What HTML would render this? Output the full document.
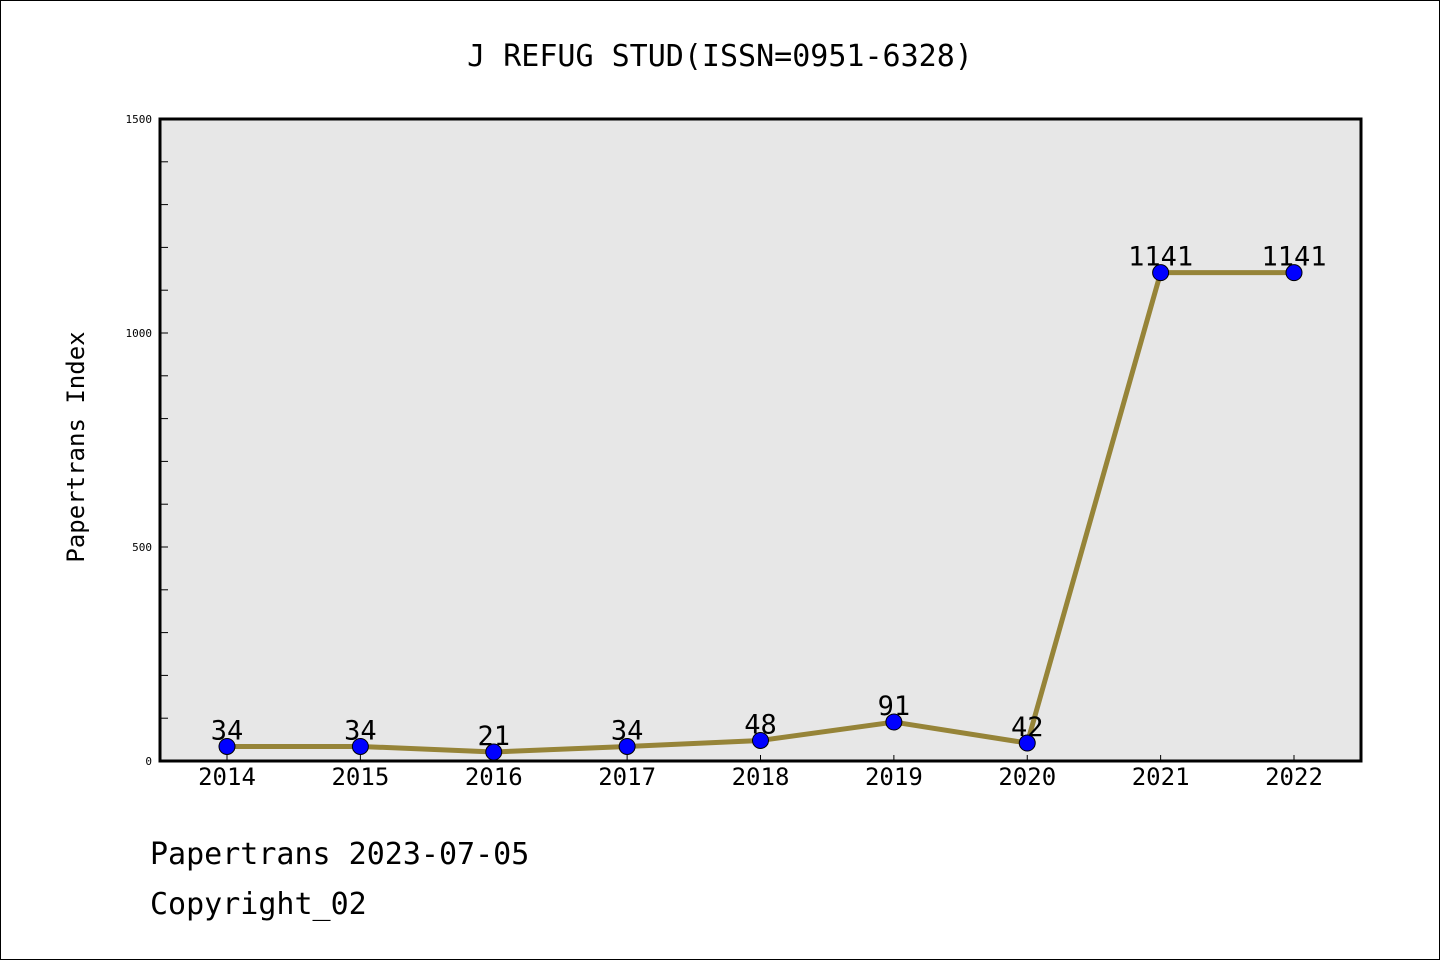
<!DOCTYPE html>
<html><head><meta charset="utf-8"><style>
html,body{margin:0;padding:0;background:#fff}
svg{display:block}
text{font-family:"DejaVu Sans Mono","Liberation Mono",monospace}
</style></head><body>
<svg id="chart" width="1440" height="960" viewBox="0 0 1440 960">
<rect x="0.5" y="0.5" width="1439" height="959" fill="#fff" stroke="#000" stroke-width="1"/>
<text x="720" y="66" text-anchor="middle" font-size="30" fill="#000">J REFUG STUD(ISSN=0951-6328)</text>
<rect x="160" y="119" width="1201" height="642" fill="#e7e7e7"/>
<g id="axes"></g>
<g id="series"></g>
<rect x="160" y="119" width="1201" height="642" fill="none" stroke="#000" stroke-width="3"/>
<text transform="translate(84,447) rotate(-90)" text-anchor="middle" font-size="24" fill="#000">Papertrans Index</text>
<text x="150" y="864" font-size="30" fill="#000">Papertrans 2023-07-05</text>
<text x="150" y="914" font-size="30" fill="#000">Copyright_02</text>
</svg>
<script>
const categories = ["2014","2015","2016","2017","2018","2019","2020","2021","2022"];
const values = [34,34,21,34,48,91,42,1141,1141];
const yTickLabels = [0,500,1000,1500];
const yMinorStep = 100;
const yMax = 1500;

const NS = "http://www.w3.org/2000/svg";
function xs(i){ return 227 + i * (1294 - 227) / (categories.length - 1); }
function ys(v){ return 761 - v * (761 - 119) / yMax; }
function mk(tag, attrs, parent){ const e=document.createElementNS(NS,tag); for(const k in attrs) e.setAttribute(k,attrs[k]); parent.appendChild(e); return e; }

const axes = document.getElementById("axes");
for(let v=yMinorStep; v<yMax; v+=yMinorStep){
  const t = mk("line",{x1:160,x2:168,y1:ys(v),y2:ys(v),stroke:"#000","stroke-width":1},axes);
  
  
}
yTickLabels.forEach(v=>{
  const t = mk("text",{x:152,y:ys(v)+4,"text-anchor":"end","font-size":11,fill:"#000"},axes);
  t.textContent = v;
  
  
});
categories.forEach((c,i)=>{
  const t = mk("line",{x1:xs(i),x2:xs(i),y1:755,y2:761,stroke:"#000","stroke-width":1},axes);
  
  
  const l = mk("text",{x:xs(i),y:785,"text-anchor":"middle","font-size":24,fill:"#000"},axes);
  l.textContent = c;
  
  
});

const series = document.getElementById("series");
const line = mk("polyline",{points:values.map((v,i)=>xs(i)+","+ys(v)).join(" "),fill:"none",stroke:"#968438","stroke-width":5,"stroke-linejoin":"round"},series);


values.forEach((v,i)=>{
  const p = mk("circle",{cx:xs(i),cy:ys(v),r:8,fill:"#0000ff",stroke:"#000","stroke-width":1},series);
  
  
  const t = mk("text",{x:xs(i),y:ys(v)-7,"text-anchor":"middle","font-size":27,fill:"#000"},series);
  t.textContent = v;
  
  
});
</script>
</body></html>
